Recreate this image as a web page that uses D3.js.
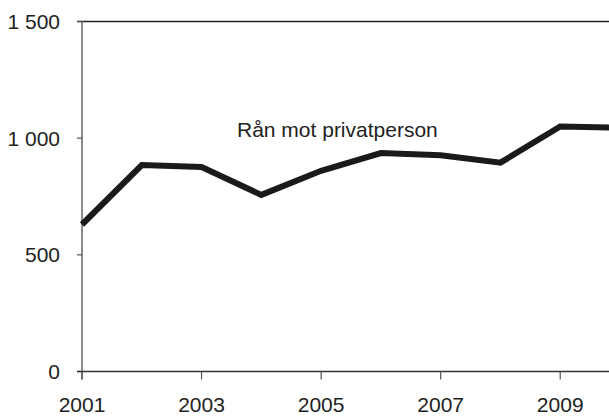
<!DOCTYPE html>
<html><head><meta charset="utf-8">
<script src="https://cdn.jsdelivr.net/npm/d3@7"></script>
<style>body{margin:0;background:#fff}svg{display:block}text{font-family:"Liberation Sans",Arial,sans-serif;fill:#222}</style>
</head><body><svg id="c" width="609" height="416"></svg>
<script>
const years = [2001,2002,2003,2004,2005,2006,2007,2008,2009,2010];
const values = [630,885,876,757,860,936,927,895,1050,1045];
const yTicks = [0,500,1000,1500];
const xTicks = [2001,2003,2005,2007,2009];
const seriesLabel = "Rån mot privatperson";

const svg = d3.select("#c");
const x = d3.scaleLinear().domain([2001,2010]).range([82,620]);
const y = d3.scaleLinear().domain([0,1500]).range([371.5,21.5]);
const fmt = v => d3.format(",")(v).replace(/,/g," ");

// top line
svg.append("line").attr("x1",77).attr("x2",609).attr("y1",y(1500)).attr("y2",y(1500))
  .attr("stroke","#222").attr("stroke-width",1.5);
// y axis
svg.append("line").attr("x1",x(2001)).attr("x2",x(2001)).attr("y1",y(1500)).attr("y2",y(0)+8)
  .attr("stroke","#666").attr("stroke-width",1.5);
svg.selectAll(".yt").data(yTicks).enter().append("line")
  .attr("x1",77).attr("x2",x(2001)).attr("y1",d=>y(d)).attr("y2",d=>y(d))
  .attr("stroke","#555").attr("stroke-width",1.2);
svg.selectAll(".yl").data(yTicks).enter().append("text")
  .attr("x",60).attr("y",d=>y(d)+7.5).attr("text-anchor","end").attr("font-size",21).text(fmt);
// x axis
svg.append("line").attr("x1",77).attr("x2",609).attr("y1",y(0)).attr("y2",y(0))
  .attr("stroke","#333").attr("stroke-width",1.5);
svg.selectAll(".xt").data(xTicks).enter().append("line")
  .attr("x1",d=>x(d)).attr("x2",d=>x(d)).attr("y1",y(0)).attr("y2",y(0)+8)
  .attr("stroke","#555").attr("stroke-width",1.2);
svg.selectAll(".xl").data(xTicks).enter().append("text")
  .attr("x",d=>x(d)).attr("y",412).attr("text-anchor","middle").attr("font-size",21).text(d=>d);
// line
svg.append("path").datum(years.map((yr,i)=>[yr,values[i]]))
  .attr("d",d3.line().x(d=>x(d[0])).y(d=>y(d[1])))
  .attr("fill","none").attr("stroke","#1a1a1a").attr("stroke-width",6).attr("stroke-linejoin","miter");
svg.append("text").attr("x",237).attr("y",137).attr("font-size",21).text(seriesLabel);
</script></body></html>
